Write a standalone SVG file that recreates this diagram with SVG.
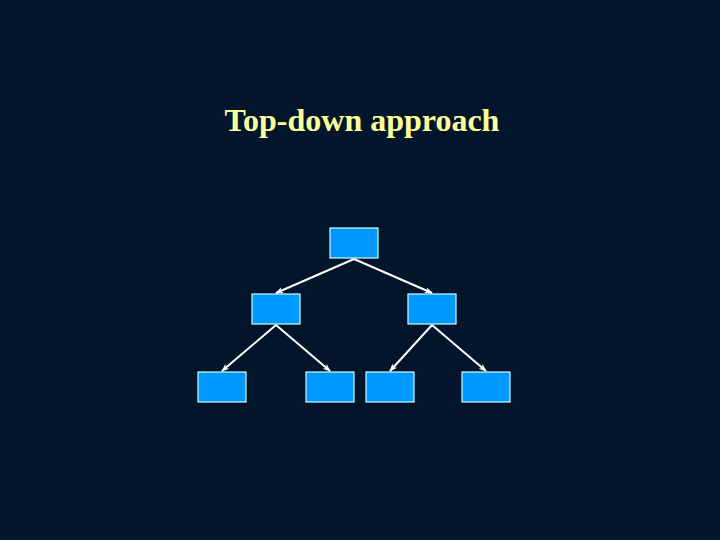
<svg xmlns="http://www.w3.org/2000/svg" width="720" height="540" viewBox="0 0 720 540">
<style>
.node rect{fill:#0099ff;stroke:#ccffff;stroke-width:1.2}
.edge{stroke:#ffffff;stroke-width:2;fill:none;marker-end:url(#ah)}
.title{font-family:"Liberation Serif",serif;font-weight:bold;font-size:32px;fill:#ffff99}
</style>
<defs>
<marker id="ah" viewBox="0 0 10 10" refX="9" refY="5" markerWidth="8" markerHeight="8" orient="auto" markerUnits="userSpaceOnUse">
<path d="M0,1 L10,5 L0,9 L3,5 z" fill="#ffffff"/>
</marker>
</defs>
<rect width="720" height="540" fill="#02152a"/>
<text class="title" x="362" y="131" text-anchor="middle">Top-down approach</text>
<g id="connectors">
<line class="edge" x1="354" y1="259" x2="276" y2="293"/>
<line class="edge" x1="354" y1="259" x2="432" y2="293"/>
<line class="edge" x1="276" y1="325" x2="222" y2="371"/>
<line class="edge" x1="276" y1="325" x2="330" y2="371"/>
<line class="edge" x1="432" y1="325" x2="390" y2="371"/>
<line class="edge" x1="432" y1="325" x2="486" y2="371"/>
</g>
<g id="root" class="node"><rect x="330" y="228" width="48" height="30"/></g>
<g id="mid-left" class="node"><rect x="252" y="294" width="48" height="30"/></g>
<g id="mid-right" class="node"><rect x="408" y="294" width="48" height="30"/></g>
<g id="leaf-1" class="node"><rect x="198" y="372" width="48" height="30"/></g>
<g id="leaf-2" class="node"><rect x="306" y="372" width="48" height="30"/></g>
<g id="leaf-3" class="node"><rect x="366" y="372" width="48" height="30"/></g>
<g id="leaf-4" class="node"><rect x="462" y="372" width="48" height="30"/></g>
</svg>
